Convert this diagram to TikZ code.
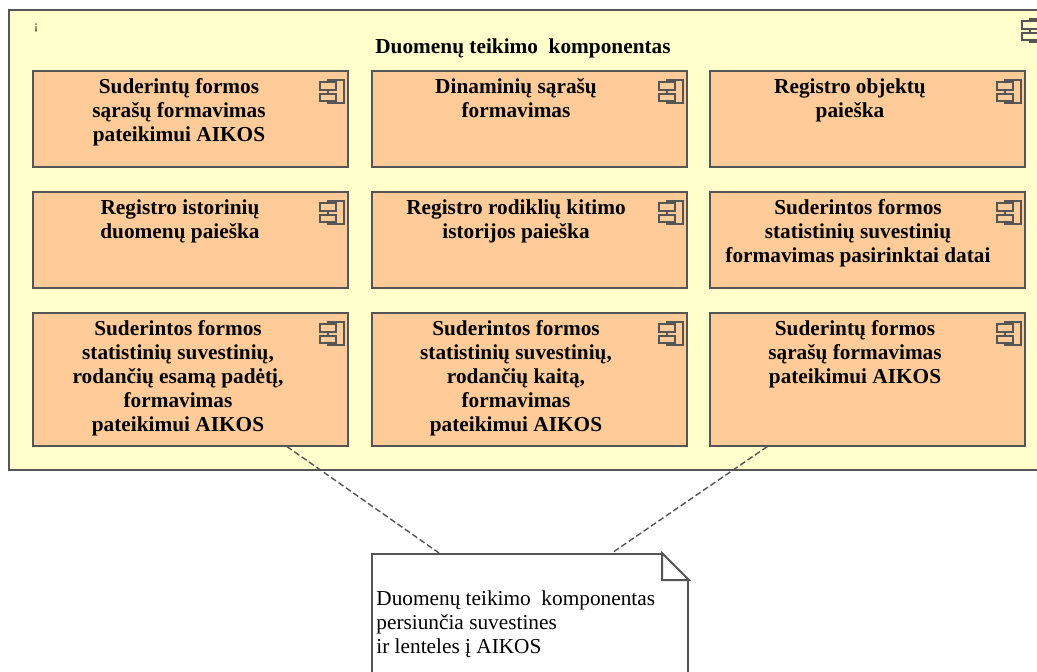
\documentclass[tikz,border=0pt]{standalone}
\usepackage{fontspec}
\setmainfont{Liberation Serif}
\definecolor{compfill}{HTML}{FFFFCC}
\definecolor{partfill}{HTML}{FFCC99}
\definecolor{edge}{HTML}{555555}
\tikzset{
  comp/.style={draw=edge,line width=1pt,fill=compfill,rectangle,inner sep=0pt},
  part/.style={draw=edge,line width=1pt,fill=partfill,rectangle,inner sep=0pt,minimum width=157.5pt,minimum height=#1},
  part/.default=48pt,
  title/.style={anchor=north,align=center,font=\fontsize{10.65}{12}\selectfont\bfseries,inner sep=0pt},
  notetext/.style={anchor=north west,align=left,font=\fontsize{10.65}{12}\selectfont,inner sep=0pt},
  notelink/.style={draw=edge,line width=.7pt,dash pattern=on 3pt off 1.5pt},
  compicon/.pic={
    \draw[draw=edge,line width=1pt] (-10.5pt,-5pt) rectangle (-2.5pt,-16.5pt);
    \draw[draw=edge,line width=1pt,fill=#1] (-14.5pt,-6pt) rectangle (-6.5pt,-10pt);
    \draw[draw=edge,line width=1pt,fill=#1] (-14.5pt,-12pt) rectangle (-6.5pt,-15.5pt);
  }
}
\begin{document}
\begin{tikzpicture}[x=.5pt,y=-.5pt]
  \useasboundingbox (0,0) rectangle (1037,671);
  \clip (0,0) rectangle (1037,671);

  \node[comp,minimum width=520.5pt,minimum height=230pt] (main) at (529.5,240) {};
  \path (main.north east) pic {compicon=compfill};
  \node[inner sep=0pt,font=\fontsize{6}{7}\selectfont] (mark) at (36,28) {¡};
  \node[title] (maintitle) at (523,38) {Duomenų teikimo\ \ komponentas};

  % row 1
  \node[part] (sar1) at (190.5,119) {};
  \node[part] (din) at (529.5,119) {};
  \node[part] (obj) at (867.5,119) {};
  % row 2
  \node[part] (ist) at (190.5,240) {};
  \node[part] (rod) at (529.5,240) {};
  \node[part] (dat) at (867.5,240) {};
  % row 3
  \node[part=66.5pt] (esam) at (190.5,379) {};
  \node[part=66.5pt] (kait) at (529.5,379) {};
  \node[part=66.5pt] (sar2) at (867.5,379) {};

  \path
  (sar1.north east) pic {compicon=partfill}
  (din.north east) pic {compicon=partfill}
  (obj.north east) pic {compicon=partfill}
  (ist.north east) pic {compicon=partfill}
  (rod.north east) pic {compicon=partfill}
  (dat.north east) pic {compicon=partfill}
  (esam.north east) pic {compicon=partfill}
  (kait.north east) pic {compicon=partfill}
  (sar2.north east) pic {compicon=partfill}
  ;

  \node[title] (tsar1) at (179,78) {Suderintų formos\\sąrašų formavimas\\pateikimui AIKOS};
  \node[title] (tdin) at (516,78) {Dinaminių sąrašų\\formavimas};
  \node[title] (tobj) at (850,78) {Registro objektų\\paieška};
  \node[title] (tist) at (180,199) {Registro istorinių\\duomenų paieška};
  \node[title] (trod) at (516,199) {Registro rodiklių kitimo\\istorijos paieška};
  \node[title] (tdat) at (858,199) {Suderintos formos\\statistinių suvestinių\\formavimas pasirinktai datai};
  \node[title] (tesam) at (178,320) {Suderintos formos\\statistinių suvestinių,\\rodančių esamą padėtį,\\formavimas\\pateikimui AIKOS};
  \node[title] (tkait) at (516,320) {Suderintos formos\\statistinių suvestinių,\\rodančių kaitą,\\formavimas\\pateikimui AIKOS};
  \node[title] (tsar2) at (855,320) {Suderintų formos\\sąrašų formavimas\\pateikimui AIKOS};

  % note, runs off the page at the bottom
  \node[draw=edge,line width=1pt,fill=white,rectangle,inner sep=0pt,minimum width=158pt,minimum height=100pt] (note) at (530,654) {};
  \fill[white] (note.north east) ++(-27,-1) -- ++(28,0) -- ++(0,28) -- cycle;
  \draw[draw=edge,line width=1pt] (note.north east) ++(-27,0) -- ++(27,27) -- ++(-27,0) -- cycle;
  \node[notetext] (ntext) at (376,590) {Duomenų teikimo\ \ komponentas\\persiunčia suvestines\\ir lenteles į AIKOS};

  \draw[notelink] (esam.-35) -- (note.132.3);
  \draw[notelink] (sar2.214.4) -- (note.51.3);
\end{tikzpicture}
\end{document}
